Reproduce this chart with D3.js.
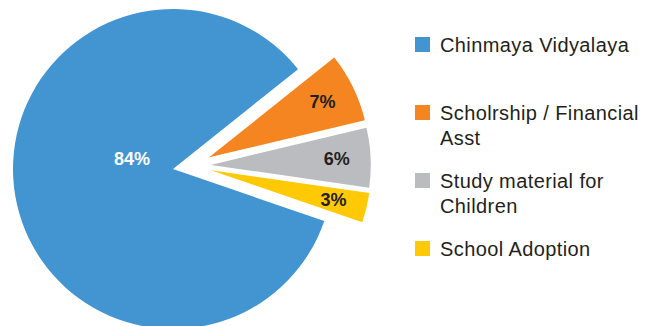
<!DOCTYPE html>
<html>
<head>
<meta charset="utf-8">
<script src="https://cdnjs.cloudflare.com/ajax/libs/d3/7.8.5/d3.min.js"></script>
<style>
  body { margin: 0; background: #fff; }
  text { font-family: "Liberation Sans", Arial, Helvetica, sans-serif; }
</style>
</head>
<body>
<div id="chart-area"></div>
<script>
// chart data
const categories = ['Chinmaya Vidyalaya', 'Scholrship / Financial Asst', 'Study material for Children', 'School Adoption']
const values = [84, 7, 6, 3]
const valueLabels = ['84%', '7%', '6%', '3%']
const legendLines = [
  ['Chinmaya Vidyalaya'],
  ['Scholrship / Financial', 'Asst'],
  ['Study material for', 'Children'],
  ['School Adoption']
]
const colors = ['#4395d2', '#f58521', '#bbbcbf', '#ffca05']

const width = 647
const height = 326
const radius = 160
const cx = 173
const cy = 169
const explode = 38
const deg = Math.PI / 180

const svg = d3.select('#chart-area')
  .append('svg')
    .attr('width', width)
    .attr('height', height)

const data = categories.map((c, i) => ({ name: c, value: values[i], label: valueLabels[i], color: colors[i] }))

// first slice starts so the small slices land on the right side
const pie = d3.pie()
  .sort(null)
  .value(d => d.value)
  .startAngle(109 * deg)
  .endAngle(469 * deg)

const arcs = pie(data)

const arc = d3.arc()
  .innerRadius(0)
  .outerRadius(radius)

const labelArc = d3.arc()
  .innerRadius(126)
  .outerRadius(126)

const small = arcs.slice(1)
const groupMid = (small[0].startAngle + small[small.length - 1].endAngle) / 2

// small slices pulled out, direction halfway between own mid and group mid
const offset = (d, i) => {
  if (i === 0) return [0, 0]
  const mid = (d.startAngle + d.endAngle) / 2
  const a = (mid + groupMid) / 2
  return [explode * Math.sin(a), -explode * Math.cos(a)]
}

const g = svg.append('g')
  .attr('transform', `translate(${cx}, ${cy})`)

const slices = g.selectAll('g.slice').data(arcs).enter()
  .append('g')
    .attr('class', 'slice')
    .attr('transform', (d, i) => `translate(${offset(d, i)})`)

slices.append('path')
  .attr('d', arc)
  .attr('fill', d => d.data.color)

slices.append('text')
  .attr('transform', (d, i) => {
    if (i === 0) return `translate(${-radius * 0.256}, ${-radius * 0.066})`
    return `translate(${labelArc.centroid(d)})`
  })
  .attr('text-anchor', 'middle')
  .attr('dy', '0.35em')
  .attr('font-size', 18)
  .attr('font-weight', 'bold')
  .attr('fill', (d, i) => i === 0 ? '#fff' : '#231f20')
  .text(d => d.data.label)

// legend
const legend = svg.append('g')
  .attr('transform', 'translate(415, 52)')

const items = legend.selectAll('g').data(data).enter()
  .append('g')
    .attr('transform', (d, i) => `translate(0, ${i * 68})`)

items.append('rect')
  .attr('x', 0)
  .attr('y', -15)
  .attr('width', 15)
  .attr('height', 15)
  .attr('fill', d => d.color)

items.append('text')
  .attr('x', 25)
  .attr('font-size', 20)
  .attr('letter-spacing', 0.4)
  .attr('fill', '#231f20')
  .selectAll('tspan')
  .data((d, i) => legendLines[i])
  .enter()
  .append('tspan')
    .attr('x', 25)
    .attr('y', (d, i) => i * 24.5)
    .text(d => d)
</script>
</body>
</html>
